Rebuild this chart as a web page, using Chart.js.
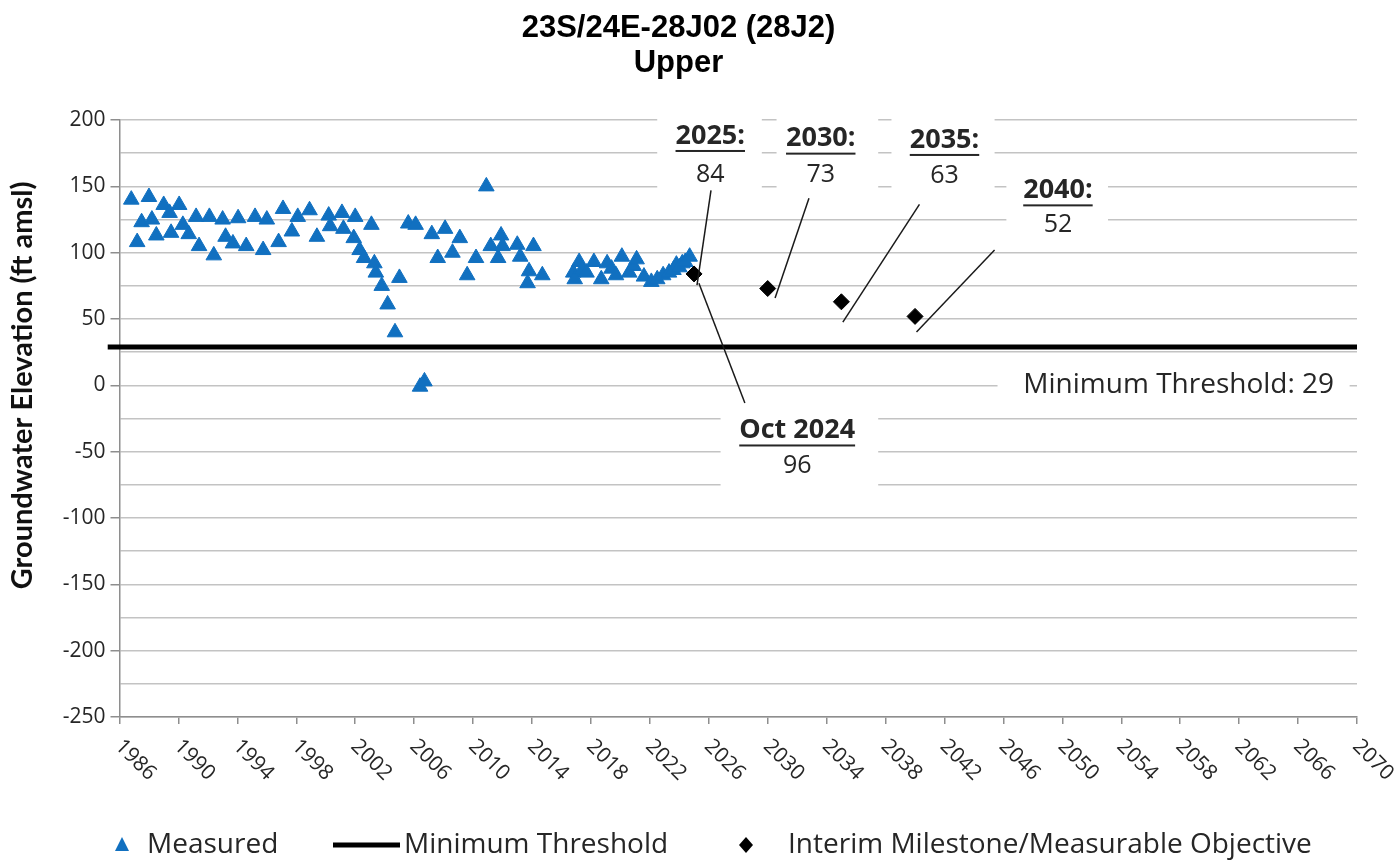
<!DOCTYPE html>
<html>
<head>
<meta charset="utf-8">
<script src="https://cdn.jsdelivr.net/npm/chart.js@4.4.1/dist/chart.umd.min.js"></script>
<style>
  html, body { margin: 0; padding: 0; background: #fff; }
  #wrap { width: 1400px; height: 866px; }
</style>
</head>
<body>
<div id="wrap"><canvas id="c" width="1400" height="866"></canvas></div>
<script>
'use strict';

// measured groundwater elevations (decimal year, ft amsl)
const measuredYears = [
  1986.8, 1987.2, 1987.5, 1988.0, 1988.2, 1988.5, 1989.0, 1989.4, 1989.5, 1990.05,
  1990.3, 1990.7, 1991.2, 1991.4, 1992.1, 1992.4, 1993.0, 1993.2, 1993.7, 1994.05,
  1994.6, 1995.2, 1995.75, 1996.0, 1996.8, 1997.1, 1997.7, 1998.1, 1998.9, 1999.4,
  2000.2, 2000.3, 2001.1, 2001.2, 2001.9, 2002.0, 2002.3, 2002.6, 2003.1, 2003.3,
  2003.4, 2003.8, 2004.2, 2004.7, 2005.0, 2005.6, 2006.1, 2006.4, 2006.7, 2007.2,
  2007.6, 2008.1, 2008.6, 2009.1, 2009.6, 2010.2, 2010.9, 2011.2, 2011.7, 2011.9,
  2012.0, 2013.0, 2013.2, 2013.7, 2013.8, 2014.1, 2014.7, 2016.8, 2016.9, 2017.2,
  2017.4, 2017.7, 2018.2, 2018.7, 2019.1, 2019.4, 2019.7, 2020.1, 2020.6, 2020.9,
  2021.1, 2021.6, 2022.1, 2022.5, 2022.9, 2023.3, 2023.6, 2023.8, 2024.0, 2024.2,
  2024.4, 2024.7
];
const measuredValues = [
  140, 108, 123, 142, 125, 113, 136, 130, 115, 136,
  121, 114, 127, 105, 127, 98, 125, 112, 107, 126,
  105, 127, 102, 125, 108, 133, 116, 127, 132, 112,
  128, 120, 130, 118, 111, 127, 102, 96, 121, 92,
  85, 75, 61, 40, 81, 122, 121, -1, 3, 114,
  96, 118, 100, 111, 83, 96, 150, 105, 96, 113,
  105, 106, 97, 77, 86, 105, 83, 85, 80, 93,
  87, 85, 93, 80, 92, 88, 83, 97, 85, 90,
  95, 82, 78, 80, 83, 85, 87, 91, 89, 92,
  93, 97
];

const milestoneYears = [2025, 2030, 2035, 2040];
const milestoneValues = [84, 73, 63, 52];
const milestoneLabels = ['2025:', '2030:', '2035:', '2040:'];

const thresholdYears = [1985.2, 2070];
const thresholdValue = 29;

const latestLabel = 'Oct 2024';
const latestValue = 96;

// callout placement, in data units: text centre, white box, leader line
const calloutLayout = [
  { cx: 2026.1, headY: 188, bodyY: 159, box: [2022.5, 207, 2029.6, 143], leader: [2026.15, 147, 2025.2, 75.6] },
  { cx: 2033.6, headY: 186, bodyY: 159, box: [2030.6, 207, 2037.5, 143], leader: [2032.8, 141, 2030.5, 65.8] },
  { cx: 2042.0, headY: 185, bodyY: 158, box: [2038.4, 207, 2045.4, 143], leader: [2040.3, 136.5, 2035.1, 47.7] },
  { cx: 2049.7, headY: 147, bodyY: 121, box: [2046.2, 166, 2053.1, 106], leader: [2045.4, 102, 2040.1, 40.2] }
];
const latestLayout = { cx: 2032.0, headY: -34, bodyY: -61, box: [2026.8, -11, 2037.5, -83], leader: [2025.33, 77, 2028.45, -13.3] };
const thresholdLayout = { cx: 2057.9, y: 0, box: [2045.6, 15, 2069.5, -17] };

const BLUE = '#1170c0';
const GRID = '#c3c3c3';
const AXIS = '#8e8e8e';
const TEXT = '#262626';
const Y_TITLE = 'Groundwater Elevation (ft amsl)';

const measuredData = measuredYears.map((x, i) => ({ x, y: measuredValues[i] }));
const milestoneData = milestoneYears.map((x, i) => ({ x, y: milestoneValues[i] }));
const thresholdData = thresholdYears.map(x => ({ x, y: thresholdValue }));

function boxPx(xs, ys, b) {
  const x0 = xs.getPixelForValue(b[0]), y0 = ys.getPixelForValue(b[1]);
  const x1 = xs.getPixelForValue(b[2]), y1 = ys.getPixelForValue(b[3]);
  return [x0, y0, x1 - x0, y1 - y0];
}

function headText(ctx, txt, x, y) {
  ctx.font = 'bold 27px "Open Sans"';
  ctx.fillText(txt, x, y);
  const w = ctx.measureText(txt).width;
  ctx.fillRect(x - w / 2, y + 14, w, 2);
}

const calloutPlugin = {
  id: 'callouts',
  beforeDatasetsDraw(chart) {
    const { ctx, scales: { x, y } } = chart;
    ctx.save();
    ctx.fillStyle = '#ffffff';
    calloutLayout.concat([latestLayout, thresholdLayout]).forEach(c => {
      ctx.fillRect(...boxPx(x, y, c.box));
    });
    ctx.restore();
  },
  afterDatasetsDraw(chart) {
    const { ctx, scales: { x, y } } = chart;
    ctx.save();
    ctx.strokeStyle = '#1a1a1a';
    ctx.lineWidth = 1.5;
    calloutLayout.concat([latestLayout]).forEach(c => {
      const l = c.leader;
      ctx.beginPath();
      ctx.moveTo(x.getPixelForValue(l[0]), y.getPixelForValue(l[1]));
      ctx.lineTo(x.getPixelForValue(l[2]), y.getPixelForValue(l[3]));
      ctx.stroke();
    });
    ctx.fillStyle = TEXT;
    ctx.textAlign = 'center';
    ctx.textBaseline = 'middle';
    calloutLayout.forEach((c, i) => {
      const cx = x.getPixelForValue(c.cx);
      headText(ctx, milestoneLabels[i], cx, y.getPixelForValue(c.headY));
      ctx.font = '25px "Open Sans"';
      ctx.fillText(String(milestoneValues[i]), cx, y.getPixelForValue(c.bodyY));
    });
    const lx = x.getPixelForValue(latestLayout.cx);
    headText(ctx, latestLabel, lx, y.getPixelForValue(latestLayout.headY));
    ctx.font = '25px "Open Sans"';
    ctx.fillText(String(latestValue), lx, y.getPixelForValue(latestLayout.bodyY));
    ctx.font = '28px "Open Sans"';
    ctx.fillText('Minimum Threshold: ' + thresholdValue, x.getPixelForValue(thresholdLayout.cx), y.getPixelForValue(thresholdLayout.y));
    ctx.restore();
  }
};

// x tick labels run down-right (clockwise), which Chart.js cannot rotate to
const axisTextPlugin = {
  id: 'axisText',
  afterDraw(chart) {
    const { ctx, scales: { x, y } } = chart;
    ctx.save();
    ctx.fillStyle = TEXT;
    ctx.font = '21px "Open Sans"';
    ctx.textAlign = 'left';
    ctx.textBaseline = 'middle';
    x.ticks.forEach(t => {
      const px = x.getPixelForValue(t.value);
      ctx.save();
      ctx.translate(px - 1, x.top + 26);
      ctx.rotate(Math.PI / 4);
      ctx.fillText(String(t.value), 0, 0);
      ctx.restore();
    });
    // y axis title sits a little above the middle of the axis, as in the source
    ctx.fillStyle = '#111';
    ctx.font = 'bold 29px Lato';
    ctx.textAlign = 'center';
    ctx.translate(23, y.getPixelForValue(0));
    ctx.rotate(-Math.PI / 2);
    ctx.fillText(Y_TITLE, 0, 0);
    ctx.restore();
  }
};

const legendPlugin = {
  id: 'bottomLegend',
  afterDraw(chart) {
    const { ctx } = chart;
    const cy = 845;
    ctx.save();
    // Measured
    ctx.fillStyle = BLUE;
    ctx.beginPath();
    ctx.moveTo(122, cy - 8);
    ctx.lineTo(129, cy + 6);
    ctx.lineTo(115, cy + 6);
    ctx.closePath();
    ctx.fill();
    // Minimum Threshold
    ctx.fillStyle = '#000';
    ctx.fillRect(333, cy - 2.5, 67, 5);
    // Interim milestone
    ctx.beginPath();
    ctx.moveTo(746, cy - 8);
    ctx.lineTo(753, cy);
    ctx.lineTo(746, cy + 8);
    ctx.lineTo(739, cy);
    ctx.closePath();
    ctx.fill();
    ctx.fillStyle = TEXT;
    ctx.font = '28px "Open Sans"';
    ctx.textAlign = 'left';
    ctx.textBaseline = 'middle';
    ctx.fillText(chart.data.datasets[0].label, 147, cy);
    ctx.fillText(chart.data.datasets[1].label, 404, cy);
    ctx.fillText(chart.data.datasets[2].label, 788, cy);
    ctx.restore();
  }
};

new Chart(document.getElementById('c'), {
  type: 'scatter',
  data: {
    datasets: [
      { label: 'Measured', data: measuredData, pointStyle: 'triangle', pointRadius: 9,
        backgroundColor: BLUE, borderColor: BLUE, borderWidth: 1, order: 2 },
      { label: 'Minimum Threshold', type: 'line', data: thresholdData, borderColor: '#000',
        borderWidth: 5, pointRadius: 0, clip: false, order: 3 },
      { label: 'Interim Milestone/Measurable Objective', data: milestoneData, pointStyle: 'rectRot',
        pointRadius: 8, backgroundColor: '#000', borderColor: '#000', borderWidth: 1, order: 1 }
    ]
  },
  options: {
    responsive: false,
    devicePixelRatio: 1,
    animation: false,
    events: [],
    layout: { padding: { top: 0, right: 43, bottom: 0, left: 0 } },
    scales: {
      x: {
        type: 'linear', min: 1986, max: 2070,
        ticks: { stepSize: 4, display: false },
        grid: { drawOnChartArea: false, drawTicks: true, tickLength: 7, color: AXIS, lineWidth: 1.5 },
        border: { color: AXIS, width: 1.5 },
        afterFit: s => { s.height = 149; }
      },
      y: {
        min: -250, max: 200,
        ticks: {
          stepSize: 25, autoSkip: false, padding: 5, color: TEXT,
          font: { family: 'Open Sans', size: 21 },
          callback: v => (v % 50 === 0 ? v : '')
        },
        grid: {
          color: GRID, lineWidth: 1.5, tickLength: 9,
          tickColor: c => (c.tick && c.tick.value % 50 === 0 ? AXIS : 'rgba(0,0,0,0)')
        },
        border: { color: AXIS, width: 1.5 },
        afterFit: s => { s.width = 119.5; }
      }
    },
    plugins: {
      legend: { display: false },
      tooltip: { enabled: false },
      title: {
        display: true,
        text: ['23S/24E-28J02 (28J2)', 'Upper'],
        color: '#000',
        font: { family: 'Liberation Sans', size: 31, weight: 'bold', lineHeight: 1.13 },
        padding: { top: 11, bottom: 39 }
      }
    }
  },
  plugins: [calloutPlugin, axisTextPlugin, legendPlugin]
});
</script>
</body>
</html>
